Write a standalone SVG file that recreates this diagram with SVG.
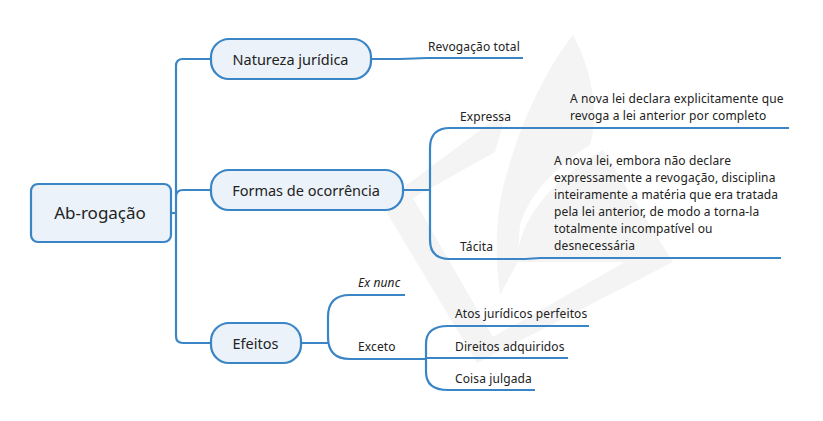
<svg xmlns="http://www.w3.org/2000/svg" width="823" height="421" viewBox="0 0 823 421">
<style>
text{font-family:"Noto Sans","Liberation Sans",sans-serif;fill:#222}
.n{fill:#ebf2f9;stroke:#3a85c6;stroke-width:2.2}
.c{fill:none;stroke:#3a85c6;stroke-width:2.2;stroke-linejoin:round}
.t{font-size:12px;letter-spacing:.12px}
.m{font-size:14.5px;text-anchor:middle}
.w{fill:#f4f4f4}
</style>
<rect width="823" height="421" fill="#fff"/>
<g id="watermark">
<path class="w" d="M573,35C590,65 600,110 590,145C565,160 530,190 520,225L517,263L500,295C494,250 496,205 508,170C520,125 545,70 573,35Z"/>
<path class="w" d="M507,110L495,152L413,198L493,337L625,262H517C518,215 560,175 603,150L673,262L477,363L387,213L400,190Z"/>
</g>
<g id="connectors">
<path class="c" d="M171,213H176M211,59H183Q176,59 176,66V336Q176,343 183,343H211M211,190H183Q176,190 176,197"/>
<path class="c" d="M371,59H400L427,58H523"/>
<path class="c" d="M403,190H430M540,128H789M450,128H540M450,128Q430,128 430,148V240Q430,259 450,259H525L540,258H781"/>
<path class="c" d="M301,343H328M405,295H350Q328,295 328,317V337Q328,359 350,359H426M426,358H568M589,326H448Q426,326 426,344V372Q426,390 448,390H535"/>
</g>
<g id="root"><rect class="n" x="31" y="184" width="140" height="58" rx="7"/><text class="m" x="100" y="219" style="font-size:17px">Ab-rogação</text></g>
<g id="natureza"><rect class="n" x="211" y="39" width="160" height="40" rx="18"/><text class="m" x="290.500" y="64.500">Natureza jurídica</text></g>
<g id="formas"><rect class="n" x="211" y="170" width="192" height="40" rx="18"/><text class="m" x="306" y="195.500">Formas de ocorrência</text></g>
<g id="efeitos"><rect class="n" x="211" y="323" width="90" height="40" rx="18"/><text class="m" x="255.500" y="348.500">Efeitos</text></g>
<g id="revogacao-total"><text class="t" x="428" y="51">Revogação total</text></g>
<g id="expressa"><text class="t" x="460" y="121">Expressa</text></g>
<g id="expressa-desc"><text class="t" x="570" y="103">A nova lei declara explicitamente que</text><text class="t" x="570" y="120">revoga a lei anterior por completo</text></g>
<g id="tacita"><text class="t" x="460" y="251">Tácita</text></g>
<g id="tacita-desc"><text class="t" x="554" y="165">A nova lei, embora não declare</text><text class="t" x="554" y="182">expressamente a revogação, disciplina</text><text class="t" x="554" y="199">inteiramente a matéria que era tratada</text><text class="t" x="554" y="216">pela lei anterior, de modo a torna-la</text><text class="t" x="554" y="233">totalmente incompatível ou</text><text class="t" x="554" y="250">desnecessária</text></g>
<g id="ex-nunc"><text class="t" x="358" y="287" font-style="italic">Ex nunc</text></g>
<g id="exceto"><text class="t" x="358" y="351">Exceto</text></g>
<g id="atos"><text class="t" x="455" y="318">Atos jurídicos perfeitos</text></g>
<g id="direitos"><text class="t" x="455" y="351">Direitos adquiridos</text></g>
<g id="coisa"><text class="t" x="455" y="383">Coisa julgada</text></g>
</svg>
